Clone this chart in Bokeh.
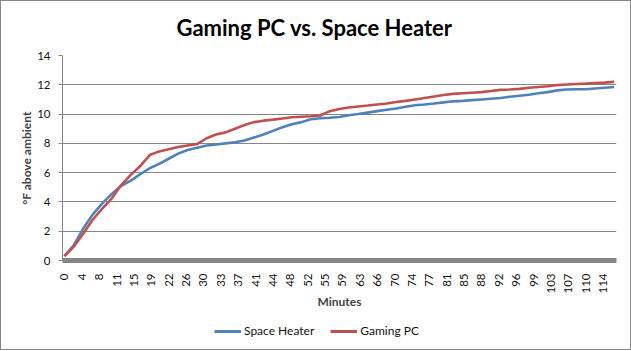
import math
from bokeh.plotting import figure
from bokeh.layouts import column
from bokeh.models import Legend, LegendItem, FixedTicker, Range1d
from bokeh.embed import file_html
from bokeh.resources import INLINE

# ---- data ----
minutes = [0, 2, 4, 6, 8, 10, 12, 14, 16, 18, 20, 22, 24, 26, 28, 30, 32, 34, 36, 38,
           40, 42, 44, 46, 48, 50, 52, 54, 56, 58, 60, 62, 64, 66, 68, 70, 72, 74, 76, 78,
           80, 82, 84, 86, 88, 90, 92, 94, 96, 98, 100, 102, 104, 106, 108, 110, 112, 114, 116]

space_heater = [0.30, 1.05, 2.20, 3.15, 3.90, 4.55, 5.10, 5.45, 5.90, 6.30,
                6.60, 6.95, 7.30, 7.55, 7.70, 7.85, 7.92, 8.00, 8.08, 8.20,
                8.40, 8.60, 8.85, 9.10, 9.30, 9.45, 9.65, 9.72, 9.75, 9.80,
                9.92, 10.00, 10.10, 10.20, 10.30, 10.38, 10.50, 10.60, 10.65, 10.72,
                10.80, 10.87, 10.90, 10.95, 11.00, 11.05, 11.10, 11.18, 11.25, 11.32,
                11.42, 11.50, 11.62, 11.68, 11.70, 11.70, 11.75, 11.80, 11.85]

gaming_pc = [0.30, 0.95, 1.85, 2.80, 3.55, 4.25, 5.15, 5.85, 6.45, 7.20,
             7.45, 7.60, 7.75, 7.85, 7.95, 8.35, 8.60, 8.75, 9.00, 9.25,
             9.45, 9.55, 9.62, 9.70, 9.78, 9.82, 9.85, 9.90, 10.20, 10.35,
             10.45, 10.52, 10.58, 10.65, 10.72, 10.82, 10.90, 11.00, 11.10, 11.20,
             11.30, 11.38, 11.42, 11.46, 11.50, 11.58, 11.65, 11.68, 11.72, 11.80,
             11.85, 11.90, 11.98, 12.02, 12.05, 12.08, 12.12, 12.15, 12.20]

x_tick_labels = ["0", "4", "8", "11", "15", "19", "22", "26", "30", "33", "37", "41",
                 "44", "48", "52", "55", "59", "63", "66", "70", "74", "77", "81", "85",
                 "88", "92", "96", "99", "103", "107", "110", "114"]
label_interval = 11 / 3  # minutes between category labels
y_ticks = [0, 2, 4, 6, 8, 10, 12, 14]

title_text = "Gaming PC vs. Space Heater"
x_title = "Minutes"
y_title = "°F above ambient"
series_names = ["Space Heater", "Gaming PC"]

BLUE = "#4F81BD"
RED = "#C0504D"
GRAY = "#868686"
FONT = "Lato"

p = figure(frame_width=554, frame_height=205,
           x_range=Range1d(-0.4, 116.5), y_range=Range1d(0, 14),
           output_backend="svg", toolbar_location=None,
           min_border_left=61, min_border_right=14,
           min_border_top=0, min_border_bottom=60)
p.outline_line_color = None
p.background_fill_color = "white"
p.border_fill_color = "white"

p.line(minutes, space_heater, line_color=BLUE, line_width=2.6)
p.line(minutes, gaming_pc, line_color=RED, line_width=2.6)

# title
p.title.text = title_text
p.title.align = "left"
p.title.offset = 114
p.title.standoff = 25
p.title.vertical_align = "top"
p.title.text_font = FONT
p.title.text_font_style = "bold"
p.title.text_font_size = "22px"
p.title.text_color = "#000000"

# x axis
tick_pos = [round(k * label_interval, 4) for k in range(len(x_tick_labels))]
p.xaxis.ticker = FixedTicker(ticks=tick_pos)
p.xaxis.major_label_overrides = {t: s for t, s in zip(tick_pos, x_tick_labels)}
p.xaxis.major_label_orientation = math.pi / 2
p.xaxis.axis_line_color = GRAY
p.xaxis.axis_line_width = 5
p.xaxis.major_tick_line_color = None
p.xaxis.minor_tick_line_color = None
p.xaxis.major_label_standoff = 7
p.xaxis.major_label_text_font = FONT
p.xaxis.major_label_text_font_size = "11.5px"
p.xaxis.major_label_text_color = "#111111"
p.xaxis.axis_label = x_title
p.xaxis.axis_label_text_font = FONT
p.xaxis.axis_label_text_font_style = "bold"
p.xaxis.axis_label_text_font_size = "12px"
p.xaxis.axis_label_standoff = -3
p.xgrid.visible = False

# y axis
p.yaxis.ticker = FixedTicker(ticks=y_ticks)
p.yaxis.axis_line_color = GRAY
p.yaxis.major_tick_line_color = GRAY
p.yaxis.major_tick_out = 4
p.yaxis.major_tick_in = 0
p.yaxis.minor_tick_line_color = None
p.yaxis.major_label_standoff = 8
p.yaxis.major_label_text_font = FONT
p.yaxis.major_label_text_font_size = "11.5px"
p.yaxis.major_label_text_color = "#111111"
p.yaxis.axis_label = y_title
p.yaxis.axis_label_text_font = FONT
p.yaxis.axis_label_text_font_style = "bold"
p.yaxis.axis_label_text_font_size = "12px"
p.yaxis.axis_label_standoff = 0
p.ygrid.ticker = FixedTicker(ticks=y_ticks)
p.ygrid.grid_line_color = GRAY
p.ygrid.grid_line_width = 1

# legend strip below the chart (its own small figure, so nothing gets clipped).
# Its frame is aligned with the main frame by the column layout.
leg = figure(width=629, height=29, x_range=Range1d(-10, -9), y_range=Range1d(0, 1),
             output_backend="svg", toolbar_location=None,
             x_axis_type=None, y_axis_type=None,
             min_border_left=0, min_border_right=0, min_border_top=0, min_border_bottom=0)
leg.outline_line_color = None
leg.grid.visible = False
leg.background_fill_color = "white"
leg.border_fill_color = "white"
# same series, outside this strip's view: only their legend swatches show
k1 = leg.line(minutes, space_heater, line_color=BLUE, line_width=3)
k2 = leg.line(minutes, gaming_pc, line_color=RED, line_width=3)

legend = Legend(items=[LegendItem(label=series_names[0], renderers=[k1]),
                       LegendItem(label=series_names[1], renderers=[k2])],
                location=(152, 11), orientation="horizontal",
                border_line_color=None, background_fill_alpha=0,
                padding=0, margin=0, spacing=16, glyph_width=27, glyph_height=14,
                label_standoff=3, label_height=14,
                label_text_font=FONT, label_text_font_size="12px", label_text_color="#111111")
leg.add_layout(legend, "center")

layout = column(p, leg, spacing=0, styles={"border": "1px solid #868686"})

open("out.html", "w").write(file_html(layout, INLINE))
